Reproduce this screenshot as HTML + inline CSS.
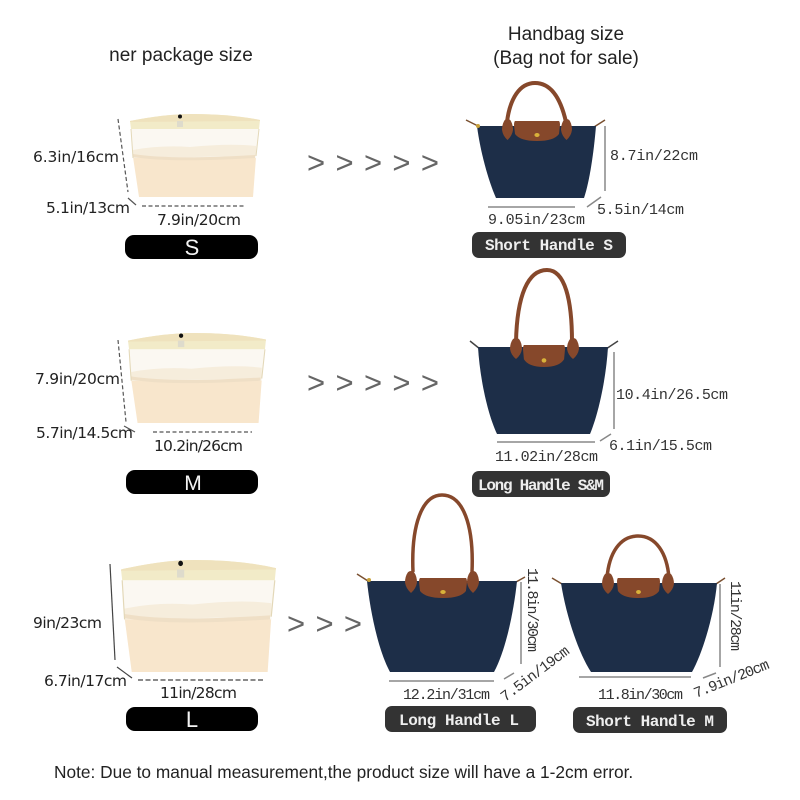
<!DOCTYPE html>
<html><head><meta charset="utf-8"><style>
html,body{margin:0;padding:0;background:#fff}
svg{display:block}
text{font-family:"Liberation Sans",sans-serif;fill:#222}
.m{font-family:"Liberation Mono",monospace;font-size:15px;fill:#333}
.d{font-family:"DejaVu Sans",sans-serif;font-size:15.5px;fill:#222}
.w{fill:#f4f4f4;text-anchor:middle}
.wm{font-family:"Liberation Mono",monospace;font-weight:bold;font-size:16px;fill:#eee}
.a{font-size:31px;fill:#666}
</style></head><body>
<svg width="800" height="800" viewBox="0 0 800 800" xmlns="http://www.w3.org/2000/svg">
<defs>
<symbol id="ins" viewBox="0 0 130 83" preserveAspectRatio="none" overflow="visible">
<path d="M3 43 L9 83 L123 83 L126 43 Z" fill="#f8e6cc"/>
<path d="M1 15 L3 44 L126 44 L129 15 Z" fill="#fbf8f2"/>
<path d="M3 36 Q30 31 60 33 Q100 29 126 32 L126 42 L3 44 Z" fill="#f6eddc"/>
<path d="M3 40 Q40 46 125 41 L125 44 Q40 49 3 43 Z" fill="#efdfc6"/>
<path d="M1 15 L3 44" stroke="#e3d8b8" stroke-width="1" fill="none"/>
<path d="M129 15 L126 42" stroke="#e3d8b8" stroke-width="1" fill="none"/>
<path d="M0 7 Q35 0 62 0 Q100 0 130 6 L129 15 L1 15 Z" fill="#f2ebc8"/>
<path d="M0 7 Q35 0 62 0 Q100 0 130 6 L130 7 L0 8 Z" fill="#efe2bd"/>
<rect x="47" y="7" width="6" height="6" fill="#dedbcc"/>
<circle cx="50" cy="2.5" r="2" fill="#111"/>
</symbol>
<symbol id="flap" viewBox="0 0 46 20" preserveAspectRatio="none" overflow="visible">
<path d="M1 0 L45 0 Q46 1 46 4 L45 13 Q40 20 23 20 Q6 20 1 13 L0 4 Q0 1 1 0 Z" fill="#86482b"/>
<ellipse cx="23" cy="14" rx="2.6" ry="2" fill="#d9b23a"/>
</symbol>
<symbol id="tab" viewBox="0 0 12 22" preserveAspectRatio="none" overflow="visible">
<path d="M3 2 Q6 0 9 2 Q12 6 12 12 Q11 18 6 22 Q1 18 0 12 Q0 6 3 2 Z" fill="#86482b"/>
</symbol>
</defs>
<rect width="800" height="800" fill="#fff"/>

<text x="181" y="61" font-size="19" text-anchor="middle">ner package size</text>
<text x="566" y="40" font-size="19" text-anchor="middle">Handbag size</text>
<text x="566" y="64" font-size="19" text-anchor="middle">(Bag not for sale)</text>

<!-- S insert -->
<use href="#ins" x="130" y="114" width="130" height="83"/>
<g stroke="#555" stroke-width="1.2" stroke-dasharray="4 2.5" fill="none">
<path d="M118 119 L128 192"/><path d="M142 206 L244 206"/><path d="M128 198 L136 205" stroke-dasharray="none"/>
</g>
<text class="d" x="33" y="162" textLength="86">6.3in/16cm</text>
<text class="d" x="46" y="213" textLength="84">5.1in/13cm</text>
<text class="d" x="157" y="225" textLength="84">7.9in/20cm</text>
<rect x="125" y="235" width="133" height="24" rx="9" fill="#000"/>
<text class="w" x="192" y="255" font-size="22">S</text>

<!-- M insert -->
<use href="#ins" x="128" y="333" width="138" height="90"/>
<g stroke="#555" stroke-width="1.2" fill="none">
<path d="M118 340 L126 422" stroke-dasharray="4 2.5"/><path d="M153 432 L252 432" stroke-dasharray="4 2.5"/><path d="M124 426 L135 432"/>
</g>
<text class="d" x="35" y="384" textLength="85">7.9in/20cm</text>
<text class="d" x="36" y="438" textLength="97">5.7in/14.5cm</text>
<text class="d" x="154" y="451" textLength="89">10.2in/26cm</text>
<rect x="126" y="470" width="132" height="24" rx="9" fill="#000"/>
<text class="w" x="193" y="490" font-size="21">M</text>

<!-- L insert -->
<use href="#ins" x="121" y="560" width="155" height="112"/>
<g stroke="#444" stroke-width="1.2" fill="none">
<path d="M110 564 L115 660"/><path d="M117 667 L132 678"/><path d="M138 680 L263 680" stroke-dasharray="5 2.5"/>
</g>
<text class="d" x="33" y="628" textLength="69">9in/23cm</text>
<text class="d" x="44" y="686" textLength="83">6.7in/17cm</text>
<text class="d" x="160" y="698" textLength="77">11in/28cm</text>
<rect x="126" y="707" width="132" height="24" rx="9" fill="#000"/>
<text class="w" x="192" y="727" font-size="22">L</text>

<!-- arrows -->
<text class="a" x="307" y="173" textLength="132" lengthAdjust="spacing">&gt; &gt; &gt; &gt; &gt;</text>
<text class="a" x="307" y="393" textLength="132" lengthAdjust="spacing">&gt; &gt; &gt; &gt; &gt;</text>
<text class="a" x="287" y="634" textLength="75" lengthAdjust="spacing">&gt; &gt; &gt;</text>

<!-- Bag S -->
<path d="M507 122 C510 98 520 83 535 83 C552 83 561 100 566 122" fill="none" stroke="#86482b" stroke-width="4"/>
<path d="M466 120 L480 127 M605 120 L594 127" stroke="#7a5030" stroke-width="1.5"/>
<path d="M477 126 L596 126 C594 150 590 180 584 198 L496 198 C488 180 480 150 477 126 Z" fill="#1d2e48"/>
<use href="#tab" x="502" y="118" width="11" height="22"/>
<use href="#tab" x="561" y="118" width="11" height="22"/>
<use href="#flap" x="514" y="121" width="46" height="20"/>
<circle cx="478" cy="126" r="2" fill="#c9a23a"/>
<path d="M605 126 L605 191 M488 207 L575 207 M587 207 L601 197" stroke="#888" stroke-width="1.5" fill="none"/>
<text class="m" x="610" y="160" textLength="88">8.7in/22cm</text>
<text class="m" x="597" y="214" textLength="87">5.5in/14cm</text>
<text class="m" x="488" y="224" textLength="97">9.05in/23cm</text>
<rect x="472" y="232" width="154" height="26" rx="7" fill="#333"/>
<text class="wm" x="485" y="250" textLength="128">Short Handle S</text>

<!-- Bag M -->
<path d="M516 342 C517 295 528 270 547 270 C565 270 572 300 572 342" fill="none" stroke="#86482b" stroke-width="4"/>
<path d="M470 341 L480 349 M618 341 L606 349" stroke="#444" stroke-width="1.5"/>
<path d="M478 347 L608 347 C606 380 598 415 590 434 L497 434 C488 415 480 380 478 347 Z" fill="#1d2e48"/>
<use href="#tab" x="510" y="337" width="12" height="22"/>
<use href="#tab" x="567" y="337" width="12" height="22"/>
<use href="#flap" x="523" y="345" width="42" height="22"/>
<path d="M614 352 L614 429 M497 442 L595 442 M600 441 L611 434" stroke="#888" stroke-width="1.5" fill="none"/>
<text class="m" x="616" y="399" textLength="112">10.4in/26.5cm</text>
<text class="m" x="609" y="450" textLength="103">6.1in/15.5cm</text>
<text class="m" x="495" y="461" textLength="103">11.02in/28cm</text>
<rect x="472" y="471" width="138" height="26" rx="7" fill="#333"/>
<text class="wm" x="478" y="490" textLength="126">Long Handle S&amp;M</text>

<!-- Bag L -->
<path d="M413 572 C411 525 422 495 442 495 C463 495 474 525 472 572" fill="none" stroke="#86482b" stroke-width="3.5"/>
<path d="M357 574 L368 581 M525 577 L516 582" stroke="#7a5030" stroke-width="1.5"/>
<path d="M367 581 L517 581 C514 610 506 650 494 672 L390 672 C378 650 370 610 367 581 Z" fill="#1d2e48"/>
<use href="#tab" x="405" y="570" width="12" height="23"/>
<use href="#tab" x="467" y="570" width="12" height="23"/>
<use href="#flap" x="419" y="578" width="48" height="20"/>
<circle cx="369" cy="580" r="2" fill="#c9a23a"/>
<path d="M521 582 L521 664 M389 681 L494 681 M504 679 L514 673" stroke="#888" stroke-width="1.5" fill="none"/>
<text class="m" transform="translate(528 568) rotate(90)" textLength="84">11.8in/30cm</text>
<text class="m" transform="translate(505 702) rotate(-37)" textLength="82">7.5in/19cm</text>
<text class="m" x="403" y="699" textLength="87">12.2in/31cm</text>
<rect x="385" y="706" width="151" height="26" rx="7" fill="#333"/>
<text class="wm" x="399" y="725" textLength="120">Long Handle L</text>

<!-- Bag M short -->
<path d="M607 578 C609 553 620 536 638 536 C656 536 667 553 669 578" fill="none" stroke="#86482b" stroke-width="3.5"/>
<path d="M552 578 L562 584 M725 578 L716 584" stroke="#7a5030" stroke-width="1.5"/>
<path d="M561 583 L717 583 C714 615 703 652 692 672 L591 672 C578 652 566 615 561 583 Z" fill="#1d2e48"/>
<use href="#tab" x="602" y="572" width="12" height="22"/>
<use href="#tab" x="662" y="572" width="12" height="22"/>
<use href="#flap" x="617" y="578" width="43" height="20"/>
<path d="M720 584 L720 667 M579 677 L691 677 M703 678 L716 673" stroke="#888" stroke-width="1.5" fill="none"/>
<text class="m" transform="translate(731 581) rotate(90)" textLength="70">11in/28cm</text>
<text class="m" transform="translate(696 698) rotate(-22)" textLength="80">7.9in/20cm</text>
<text class="m" x="598" y="699" textLength="85">11.8in/30cm</text>
<rect x="573" y="707" width="154" height="26" rx="7" fill="#333"/>
<text class="wm" x="586" y="726" textLength="128">Short Handle M</text>

<text x="54" y="778" font-size="17.3">Note: Due to manual measurement,the product size will have a 1-2cm error.</text>
</svg>
</body></html>
